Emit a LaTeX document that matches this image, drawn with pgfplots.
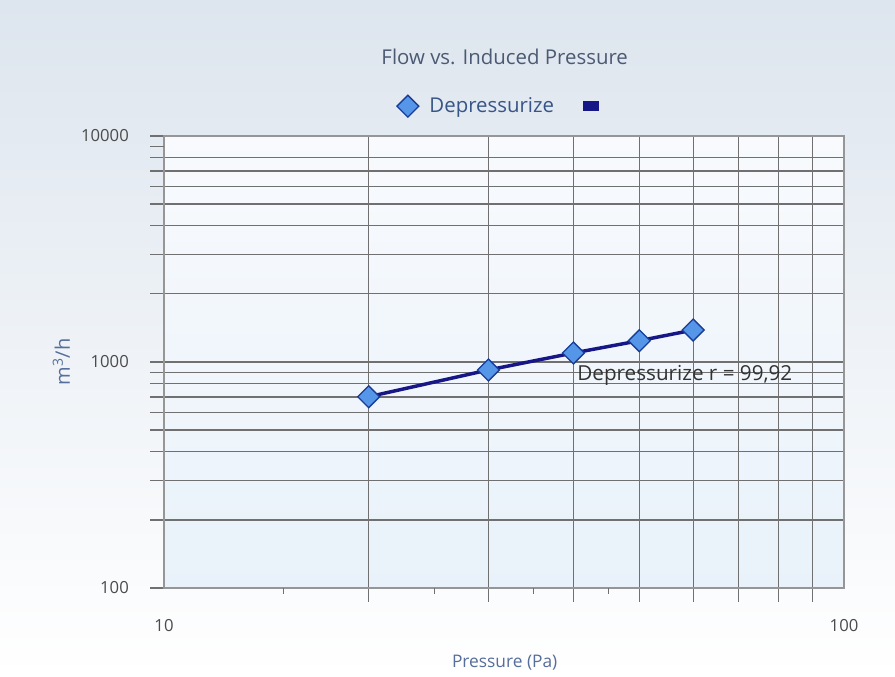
\documentclass[border=0pt]{standalone}
\usepackage{fontspec}
\setmainfont{Open Sans}
\usepackage{pgfplots}
\pgfplotsset{compat=1.18}
\usetikzlibrary{backgrounds}

\definecolor{gridc}{RGB}{112,112,112}
\definecolor{axisc}{RGB}{150,150,150}
\definecolor{titlec}{RGB}{75,90,115}
\definecolor{labelc}{RGB}{85,110,155}
\definecolor{tickc}{RGB}{75,75,75}
\definecolor{legc}{RGB}{55,85,135}
\definecolor{navy}{RGB}{22,22,135}
\definecolor{markfill}{RGB}{85,150,232}
\definecolor{markedge}{RGB}{25,60,150}
\definecolor{bgtop}{RGB}{221,229,238}
\definecolor{patop}{RGB}{248,250,253}
\definecolor{pabot}{RGB}{233,242,250}

\begin{document}
\begin{tikzpicture}[x=0.75pt,y=0.75pt]
\begin{axis}[
  at={(0,0)}, anchor=south west,
  scale only axis, width=510pt, height=339pt,
  xmode=log, ymode=log,
  xmin=10, xmax=100, ymin=100, ymax=10000,
  xtick={10,100}, xticklabels={10,100},
  ytick={100,1000,10000}, yticklabels={100,1000,10000},
  minor xtick={20,30,40,50,60,70,80,90},
  minor ytick={200,300,400,500,600,700,800,900,2000,3000,4000,5000,6000,7000,8000},
  extra x ticks={15,25,35,45}, extra x tick labels={},
  extra x tick style={grid=none, major tick length=4.5pt, major x tick style={draw=gridc, line width=0.8pt}},
  extra y ticks={9000}, extra y tick labels={},
  extra y tick style={grid=none},
  xtick pos=bottom, ytick pos=left,
  grid=both,
  major grid style={gridc, line width=0.8pt},
  minor grid style={gridc, line width=0.8pt},
  tick align=outside,
  major tick length=10.5pt, minor tick length=10.5pt,
  major x tick style={draw=none},
  every tick/.style={gridc, line width=0.8pt},
  axis line style={axisc, line width=0.8pt},
  axis background/.style={top color=patop, bottom color=pabot},
  /pgf/number format/assume math mode=true,
  tick label style={font=\fontsize{12.5}{14}\selectfont, text=tickc},
  xticklabel style={anchor=center, yshift=-18pt},
  yticklabel style={anchor=east, inner sep=0pt, xshift=-15.75pt},
  xlabel={Pressure (Pa)},
  xlabel style={at={(axis description cs:0.501,0)}, anchor=center, yshift=-56.25pt, font=\fontsize{13}{15}\selectfont, text=labelc},
  ylabel={m\textsuperscript{3}/h},
  ylabel style={at={(axis description cs:0,0.5)}, anchor=center, yshift=77pt, font=\fontsize{15}{18}\selectfont, text=labelc},
  legend style={at={(axis description cs:0.495,1.066)}, anchor=center, draw=none, fill=none,
    font=\fontsize{15.3}{18}\selectfont, text=legc, legend columns=2,
    /tikz/every even column/.append style={column sep=20pt}},
  legend cell align=left,
  clip=false,
]
\addplot[only marks, mark=square*, mark size=5.8pt,
  mark options={rotate=45, fill=markfill, draw=markedge, line width=1pt}]
  coordinates {(20,702) (30,922) (40,1096) (50,1242) (60,1385)};
\addlegendentry{\hspace{6pt}Depressurize}
\addplot[navy, line width=2.6pt, no marks,
  legend image code/.code={\fill[navy] (0pt,-2.4pt) rectangle (9pt,2.4pt);}]
  coordinates {(20,702) (30,922) (40,1096) (50,1242) (60,1385)};
\addlegendentry{}
\node[anchor=west, inner sep=0pt, font=\fontsize{15.5}{18}\selectfont, text=black!80] at (axis cs:40.5,876) {Depressurize r = 99,92};
\node[anchor=center, font=\fontsize{15.3}{18}\selectfont, text=titlec] at (axis description cs:0.501,1.175) {Flow vs. Induced Pressure};
\end{axis}
\begin{scope}[on background layer]
\shade[top color=bgtop, bottom color=white] (-164,-89) rectangle (731,588);
\end{scope}
\pgfresetboundingbox
\path[use as bounding box] (-164,-89) rectangle (731,588);
\end{tikzpicture}
\end{document}
